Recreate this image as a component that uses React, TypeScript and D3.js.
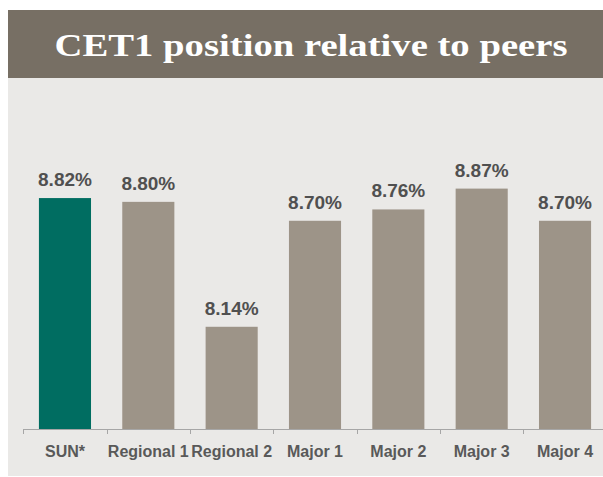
import React, { useEffect, useRef } from 'react'
import * as d3 from 'd3'

const categories = ['SUN*', 'Regional 1', 'Regional 2', 'Major 1', 'Major 2', 'Major 3', 'Major 4']
const values = [8.82, 8.8, 8.14, 8.7, 8.76, 8.87, 8.7]
const highlighted = ['SUN*']
const title = 'CET1 position relative to peers'

const WIDTH = 603
const HEIGHT = 477

const App = () => {
  const ref = useRef<SVGSVGElement>(null)

  useEffect(() => {
    const svg = d3.select(ref.current)
    svg.selectAll('*').remove()

    const dims = {
      header: { x: 8, y: 10, h: 68 },
      panelBottom: 476,
      axisLeft: 23.3,
      axisRight: 606.7,
      axisY: 429,
      plotTop: 164
    }

    // backgrounds
    svg.append('rect').attr('width', WIDTH).attr('height', HEIGHT).attr('fill', '#ffffff')
    svg
      .append('rect')
      .attr('x', dims.header.x)
      .attr('y', dims.header.y + dims.header.h)
      .attr('width', WIDTH - dims.header.x + 10)
      .attr('height', dims.panelBottom - dims.header.y - dims.header.h)
      .attr('fill', '#EAE9E7')
    svg
      .append('rect')
      .attr('x', dims.header.x)
      .attr('y', dims.header.y)
      .attr('width', WIDTH - dims.header.x + 10)
      .attr('height', dims.header.h)
      .attr('fill', '#776F64')

    svg
      .append('text')
      .attr('x', 311)
      .attr('y', 56)
      .attr('text-anchor', 'middle')
      .attr('fill', '#ffffff')
      .style('font-family', '"Liberation Serif", "DejaVu Serif", serif')
      .style('font-weight', 'bold')
      .style('font-size', '31px')
      .attr('textLength', 513)
      .attr('lengthAdjust', 'spacingAndGlyphs')
      .text(title)

    const xScale = d3
      .scaleBand<string>()
      .domain(categories)
      .range([dims.axisLeft, dims.axisRight])
      .paddingInner(0.375)
      .paddingOuter(0.1875)

    const yScale = d3.scaleLinear().domain([7.6, 9.0]).range([dims.axisY, dims.plotTop])

    const data = categories.map((c, i) => ({ cat: c, value: values[i] }))

    const bounds = svg.append('g')

    bounds
      .selectAll('rect.bar')
      .data(data)
      .enter()
      .append('rect')
      .attr('class', 'bar')
      .attr('x', d => xScale(d.cat) as number)
      .attr('width', xScale.bandwidth())
      .attr('y', d => yScale(d.value))
      .attr('height', d => dims.axisY - yScale(d.value))
      .attr('fill', d => (highlighted.includes(d.cat) ? '#006D61' : '#9D9488'))

    bounds
      .selectAll('text.value')
      .data(data)
      .enter()
      .append('text')
      .attr('class', 'value')
      .attr('x', d => (xScale(d.cat) as number) + xScale.bandwidth() / 2)
      .attr('y', d => yScale(d.value) - 12)
      .attr('text-anchor', 'middle')
      .attr('fill', '#505050')
      .style('font-family', '"Liberation Sans", Arial, sans-serif')
      .style('font-weight', 'bold')
      .style('font-size', '19px')
      .text(d => `${d.value.toFixed(2)}%`)

    // x axis
    const xAxis = bounds
      .append('g')
      .attr('transform', `translate(0,${dims.axisY})`)
      .call(d3.axisBottom(xScale).tickSize(0).tickPadding(17))
    xAxis.select('.domain').remove()
    xAxis
      .selectAll('text')
      .attr('fill', '#595959')
      .style('font-family', '"Liberation Sans", Arial, sans-serif')
      .style('font-weight', 'bold')
      .style('font-size', '16px')

    bounds
      .append('line')
      .attr('x1', dims.axisLeft)
      .attr('x2', dims.axisRight)
      .attr('y1', dims.axisY + 0.5)
      .attr('y2', dims.axisY + 0.5)
      .attr('stroke', '#A6A6A6')
      .attr('stroke-width', 1)

    const boundaries = d3.range(categories.length + 1).map(i => dims.axisLeft + i * xScale.step())
    bounds
      .selectAll('line.tick-mark')
      .data(boundaries)
      .enter()
      .append('line')
      .attr('class', 'tick-mark')
      .attr('x1', d => Math.round(d) + 0.5)
      .attr('x2', d => Math.round(d) + 0.5)
      .attr('y1', dims.axisY)
      .attr('y2', dims.axisY + 5)
      .attr('stroke', '#A6A6A6')
  }, [])

  return (
    <svg
      ref={ref}
      width={WIDTH}
      height={HEIGHT}
      style={{ position: 'absolute', left: 0, top: 0, display: 'block' }}
    />
  )
}

export default App
